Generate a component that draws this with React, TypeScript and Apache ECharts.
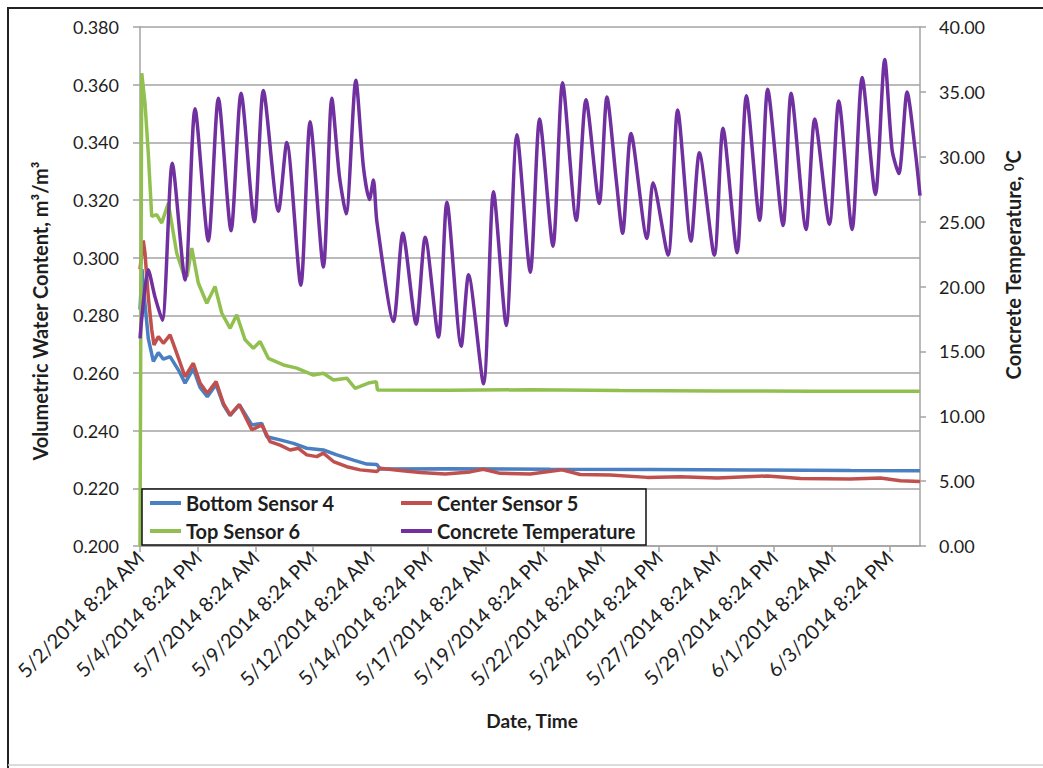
import React, { useEffect, useRef } from "react";
import * as echarts from "echarts";

// x values are hours elapsed since 5/2/2014 8:24 AM
const tickLabels = [
  "5/2/2014 8:24 AM",
  "5/4/2014 8:24 PM",
  "5/7/2014 8:24 AM",
  "5/9/2014 8:24 PM",
  "5/12/2014 8:24 AM",
  "5/14/2014 8:24 PM",
  "5/17/2014 8:24 AM",
  "5/19/2014 8:24 PM",
  "5/22/2014 8:24 AM",
  "5/24/2014 8:24 PM",
  "5/27/2014 8:24 AM",
  "5/29/2014 8:24 PM",
  "6/1/2014 8:24 AM",
  "6/3/2014 8:24 PM",
];
const hoursPerLabel = 60;
const lastHour = 812;

const bottomSensor4: [number, number][] = [
  [0, 0.282], [2.1, 0.296], [5.2, 0.284], [8.6, 0.272], [13.9, 0.264], [19.1, 0.2671],
  [24.3, 0.2648], [31.3, 0.2657], [39.9, 0.2611], [46.9, 0.2565], [55.5, 0.2615],
  [62.5, 0.255], [70.1, 0.2518], [79.2, 0.256], [86.8, 0.249], [93.8, 0.2452],
  [103.4, 0.249], [116.4, 0.242], [126.8, 0.2425], [132, 0.2379], [145.8, 0.2368],
  [159.7, 0.2356], [173.6, 0.2339], [190.9, 0.2333], [204.9, 0.2316], [222.2, 0.2298],
  [236.1, 0.2284], [246.6, 0.2283], [250, 0.2267], [322.9, 0.2268], [427.1, 0.2266],
  [531.3, 0.2265], [635.4, 0.2264], [739.6, 0.2262], [812, 0.2261],
];

const centerSensor5: [number, number][] = [
  [0, 0.296], [3.4, 0.306], [5.2, 0.3016], [8.6, 0.2865], [12.2, 0.275], [14.6, 0.2697],
  [19.1, 0.2726], [24.3, 0.2703], [31.3, 0.2732], [38.2, 0.2669], [46.9, 0.2587],
  [55.5, 0.2634], [62.5, 0.2565], [70.1, 0.253], [79.2, 0.257], [86.8, 0.2495],
  [93.8, 0.2455], [103.4, 0.249], [116.4, 0.2403], [126.8, 0.242], [135.4, 0.2362],
  [145.8, 0.235], [156.3, 0.2333], [164.9, 0.2339], [173.6, 0.2316], [184.1, 0.231],
  [190.9, 0.2322], [201.4, 0.2293], [215.3, 0.2275], [229.2, 0.2264], [246.6, 0.2258],
  [250, 0.227], [270.8, 0.2262], [291.7, 0.2255], [317.7, 0.225], [343.8, 0.2257],
  [357.3, 0.2266], [375, 0.2252], [406.3, 0.225], [439.3, 0.2264], [458.3, 0.2248],
  [489.6, 0.2246], [528.1, 0.2238], [562.5, 0.224], [601, 0.2236], [653.1, 0.2243],
  [687.5, 0.2234], [739.6, 0.2232], [770.8, 0.2236], [791.7, 0.2226], [812, 0.2224],
];

const topSensor6: [number, number][] = [
  [0, 0.2], [1.8, 0.364], [5.2, 0.3536], [8.6, 0.3363], [12.2, 0.3143], [17.4, 0.3149],
  [22.6, 0.312], [29.5, 0.3189], [38.2, 0.3016], [45.1, 0.2946], [49, 0.2935],
  [53.9, 0.3033], [60.7, 0.2912], [69.5, 0.2842], [78.1, 0.29], [85.1, 0.2808],
  [93.8, 0.2755], [100.7, 0.2802], [109.4, 0.2715], [118, 0.2686], [125, 0.2709],
  [133.6, 0.2651], [149.3, 0.2628], [163.2, 0.2617], [180.5, 0.2593], [190.9, 0.2599],
  [201.4, 0.2576], [215.3, 0.2582], [224, 0.2547], [237.8, 0.2565], [246, 0.257],
  [247.2, 0.2541], [322.9, 0.254], [406, 0.2542], [500, 0.2539], [600, 0.2538],
  [700, 0.2537], [812, 0.2537],
];

const concreteTemperature: [number, number][] = [
  [0, 16.0], [8.6, 21.3], [15.6, 19.2], [23.2, 17.4], [33.6, 29.5], [46.9, 20.5],
  [57.3, 33.7], [71.1, 23.5], [81.6, 34.5], [94.8, 24.3], [105.2, 34.9], [119.1, 25.0],
  [128.4, 35.1], [144.1, 25.8], [152.8, 31.1], [167.4, 20.1], [177.1, 32.7], [190.9, 21.5],
  [199.7, 34.5], [207.6, 28.5], [214.6, 25.6], [224.7, 35.9], [232.6, 29.2], [238.9, 26.7],
  [243.0, 28.2], [246.6, 25.0], [263.9, 17.3], [273.6, 24.1], [287.5, 17.1], [296.9, 23.8],
  [310.7, 16.1], [319.5, 26.5], [334.4, 15.4], [342.0, 20.9], [357.6, 12.5], [368.0, 27.3],
  [381.3, 17.0], [392.4, 31.7], [406.3, 21.1], [416.0, 32.9], [429.9, 23.1], [439.9, 35.7],
  [454.2, 25.1], [464.3, 34.4], [478.1, 26.4], [486.1, 34.6], [495.8, 28.2], [502.4, 24.1],
  [511.1, 31.8], [527.8, 23.7], [534.1, 28.0], [549.7, 22.4], [559.7, 33.6], [573.6, 23.5],
  [582.3, 30.3], [597.9, 22.4], [606.9, 32.2], [621.6, 22.6], [631.3, 34.7], [645.1, 25.1],
  [653.4, 35.2], [669.5, 24.7], [677.8, 34.9], [693.4, 24.4], [702.4, 32.9], [717.7, 24.8],
  [727.4, 34.3], [741.3, 24.4], [751.8, 36.1], [765.6, 27.1], [775.3, 37.5], [783.0, 30.5],
  [790.0, 28.7], [798.6, 35.0], [807.3, 30.3], [812, 27.0],
];

const FONT = "Lato, 'Open Sans', sans-serif";
const TEXT = "#1e1e1e";
const GRID = "#a3a3a3";

export default function App() {
  const ref = useRef<HTMLDivElement>(null);
  useEffect(() => {
    if (!ref.current) return;
    const chart = echarts.init(ref.current, null, { renderer: "svg" });
    const legendText = { fontFamily: FONT, fontWeight: "bold", fontSize: 20, color: TEXT, lineHeight: 20 };
    const legendBase = {
      orient: "vertical",
      top: 493,
      padding: 0,
      itemWidth: 31,
      itemHeight: 4,
      itemGap: 8,
      icon: "rect",
      textStyle: legendText,
      z: 10,
    };
    chart.setOption({
      animation: false,
      backgroundColor: "#ffffff",
      grid: { left: 140, right: 123, top: 27, bottom: 222, containLabel: false },
      xAxis: {
        type: "value",
        min: 0,
        max: lastHour,
        interval: hoursPerLabel,
        axisLine: { show: true, lineStyle: { color: GRID, width: 1.5 } },
        axisTick: { show: true, inside: false, length: 6, lineStyle: { color: GRID, width: 1.5 } },
        splitLine: { show: false },
        axisLabel: {
          rotate: 45,
          margin: 8,
          fontFamily: FONT,
          fontSize: 20,
          color: TEXT,
          showMaxLabel: false,
          formatter: (v: number) => {
            const i = Math.round(v / hoursPerLabel);
            return Math.abs(i * hoursPerLabel - v) < 0.01 && tickLabels[i] ? tickLabels[i] : "";
          },
        },
      },
      yAxis: [
        {
          type: "value",
          position: "left",
          min: 0.2,
          max: 0.38,
          interval: 0.02,
          axisLine: { show: true, lineStyle: { color: GRID, width: 1.5 } },
          axisTick: { show: true, inside: false, length: 7, lineStyle: { color: GRID, width: 1.5 } },
          splitLine: { show: true, lineStyle: { color: GRID, width: 1.5 } },
          axisLabel: {
            margin: 21,
            fontFamily: FONT,
            fontSize: 18,
            color: TEXT,
            formatter: (v: number) => v.toFixed(3),
          },
        },
        {
          type: "value",
          position: "right",
          min: 0,
          max: 40,
          interval: 5,
          axisLine: { show: true, lineStyle: { color: GRID, width: 1.5 } },
          axisTick: { show: true, inside: false, length: 6, lineStyle: { color: GRID, width: 1.5 } },
          splitLine: { show: false },
          axisLabel: {
            margin: 19,
            fontFamily: FONT,
            fontSize: 18,
            color: TEXT,
            formatter: (v: number) => v.toFixed(2),
          },
        },
      ],
      legend: [
        { ...legendBase, data: ["Bottom Sensor 4", "Top Sensor 6"], left: 150 },
        { ...legendBase, data: ["Center Sensor 5", "Concrete Temperature"], left: 401 },
      ],
      graphic: [
        {
          type: "rect",
          z: 5,
          shape: { x: 142, y: 489, width: 504, height: 56 },
          style: { fill: "#ffffff", stroke: "#111111", lineWidth: 1.5 },
        },
        {
          type: "line",
          z: 20,
          shape: { x1: 8, y1: 7, x2: 8, y2: 768 },
          style: { stroke: "#222222", lineWidth: 2 },
        },
        {
          type: "line",
          z: 20,
          shape: { x1: 7, y1: 8, x2: 1043, y2: 8 },
          style: { stroke: "#222222", lineWidth: 2 },
        },
        {
          type: "line",
          z: 20,
          shape: { x1: 8, y1: 765, x2: 1043, y2: 765 },
          style: { stroke: "#d0d0d0", lineWidth: 1.5 },
        },
        {
          type: "text",
          x: 40,
          y: 311,
          rotation: Math.PI / 2,
          style: {
            text: "Volumetric Water Content, m³/m³",
            font: `bold 20px ${FONT}`,
            fill: TEXT,
            align: "center",
            verticalAlign: "middle",
          },
        },
        {
          type: "text",
          x: 1013,
          y: 265,
          rotation: Math.PI / 2,
          style: {
            text: "Concrete Temperature, {sup|0}C",
            font: `bold 20px ${FONT}`,
            fill: TEXT,
            align: "center",
            verticalAlign: "middle",
            rich: {
              sup: { fontFamily: FONT, fontWeight: "bold", fontSize: 13, fill: TEXT, verticalAlign: "top", lineHeight: 22 },
            },
          },
        },
        {
          type: "text",
          x: 532,
          y: 720,
          style: {
            text: "Date, Time",
            font: `bold 19px ${FONT}`,
            fill: TEXT,
            align: "center",
            verticalAlign: "middle",
          },
        },
      ],
      series: [
        {
          name: "Bottom Sensor 4",
          type: "line",
          yAxisIndex: 0,
          data: bottomSensor4,
          showSymbol: false,
          color: "#4a7fc1",
          lineStyle: { width: 3.5, color: "#4a7fc1" },
        },
        {
          name: "Center Sensor 5",
          type: "line",
          yAxisIndex: 0,
          data: centerSensor5,
          showSymbol: false,
          color: "#c0504d",
          lineStyle: { width: 3.5, color: "#c0504d" },
        },
        {
          name: "Top Sensor 6",
          type: "line",
          yAxisIndex: 0,
          data: topSensor6,
          showSymbol: false,
          color: "#92c050",
          lineStyle: { width: 3.5, color: "#92c050" },
        },
        {
          name: "Concrete Temperature",
          type: "line",
          yAxisIndex: 1,
          data: concreteTemperature,
          showSymbol: false,
          smooth: 0.25,
          color: "#7030a0",
          lineStyle: { width: 3.5, color: "#7030a0" },
        },
      ],
    });
    return () => chart.dispose();
  }, []);
  return (
    <div style={{ position: "absolute", left: 0, top: 0, width: 1043, height: 768, background: "#fff" }}>
      <div ref={ref} style={{ width: 1043, height: 768 }} />
    </div>
  );
}
